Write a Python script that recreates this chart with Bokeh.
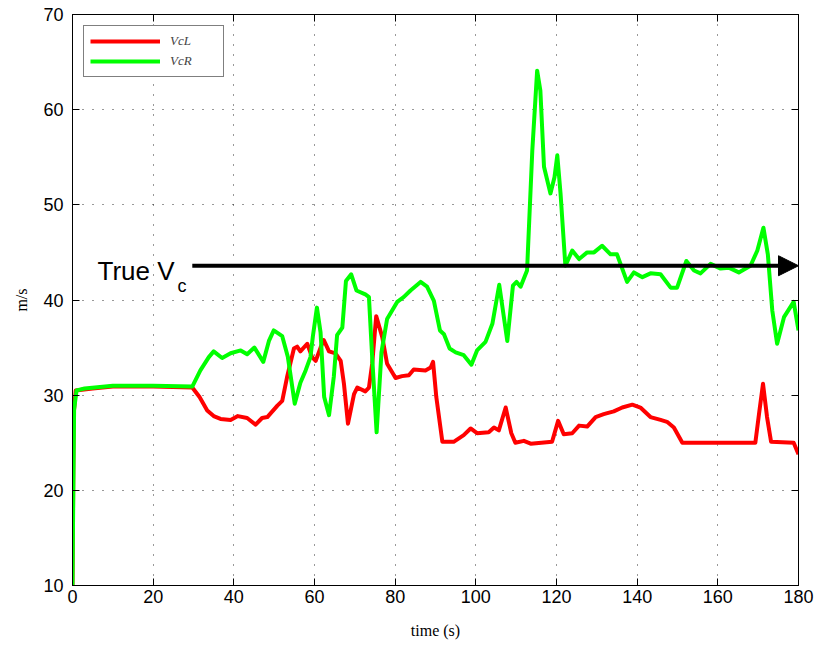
from bokeh.plotting import figure
from bokeh.models import (Range1d, FixedTicker, LinearAxis, Legend, LegendItem,
                          Arrow, NormalHead, Label)
from bokeh.embed import file_html
from bokeh.resources import INLINE

# ---- data ----
t_left = [0, 0.3, 0.8, 5, 10, 20, 29.7, 31.5, 33.4, 35.0, 36.7, 39.2, 41.0, 43.3,
          45.4, 47.0, 48.3, 50.8, 52.0, 53.2, 54.9, 55.7, 56.5, 58.2, 59.4, 60.3,
          61.5, 62.3, 63.6, 65.2, 66.5, 67.3, 68.3, 69.8, 70.6, 72.6, 73.5, 74.3,
          75.3, 76.8, 78.0, 80.1, 81.7, 83.4, 84.6, 87.5, 88.8, 89.4, 90.2, 91.7,
          94.5, 97.0, 98.7, 100.3, 103.2, 104.5, 105.7, 107.4, 108.8, 109.8, 111.9,
          113.6, 118.9, 120.4, 121.8, 123.9, 125.6, 127.6, 129.7, 131.7, 134.2,
          136.3, 138.8, 140.8, 143.3, 145.8, 147.4, 149.1, 151.2, 169.3, 170.2,
          171.2, 172.2, 173.2, 178.8, 180]
v_left = [10, 28, 30.5, 30.7, 30.9, 30.9, 30.8, 29.8, 28.4, 27.8, 27.5, 27.4, 27.8,
          27.6, 26.9, 27.6, 27.7, 28.9, 29.4, 31.9, 34.9, 35.1, 34.6, 35.4, 34.0,
          33.6, 35.0, 35.8, 34.6, 34.4, 33.6, 31.2, 27.0, 30.1, 30.8, 30.4, 30.8,
          33.3, 38.3, 36.1, 33.3, 31.8, 32.0, 32.1, 32.7, 32.6, 32.9, 33.5, 29.8,
          25.1, 25.1, 25.8, 26.5, 26.0, 26.1, 26.6, 26.3, 28.7, 26.0, 25.0, 25.2,
          24.9, 25.1, 27.3, 25.9, 26.0, 26.8, 26.7, 27.7, 28.0, 28.3, 28.7, 29.0,
          28.7, 27.7, 27.4, 27.2, 26.6, 25.0, 25.0, 28.0, 31.2, 27.7, 25.1, 25.0,
          23.8]

t_right = [0, 0.2, 0.4, 1.0, 3, 10, 20, 29.7, 31.7, 33.8, 35.0, 37.1, 39.2, 41.7,
           43.3, 45.1, 47.3, 48.7, 49.9, 52.0, 53.4, 55.1, 56.5, 57.8, 59.0, 59.6,
           60.6, 61.5, 62.4, 63.6, 64.8, 65.6, 66.9, 67.8, 69.1, 70.4, 72.6, 73.5,
           74.3, 75.4, 76.6, 78.0, 80.5, 82.1, 83.8, 86.3, 87.9, 89.6, 91.1, 92.1,
           93.5, 95.0, 97.0, 98.9, 100.3, 102.4, 104.1, 105.8, 107.8, 109.2, 110.1,
           111.1, 112.7, 114.0, 115.2, 116.0, 116.9, 118.5, 119.5, 120.2, 121.0,
           122.2, 123.9, 125.6, 127.6, 129.3, 131.3, 133.4, 135.0, 137.5, 139.2,
           141.3, 143.3, 145.8, 148.3, 149.9, 152.2, 154.1, 155.7, 158.2, 160.7,
           162.7, 165.2, 168.1, 169.8, 171.3, 172.4, 173.5, 174.7, 176.4, 178.8, 180]
v_right = [10, 20, 28.5, 30.5, 30.7, 31.0, 31.0, 30.9, 32.6, 34.0, 34.6, 33.9, 34.4,
           34.7, 34.3, 35.0, 33.5, 35.7, 36.8, 36.2, 34.0, 29.1, 31.3, 32.6, 34.0,
           36.2, 39.2, 36.6, 29.8, 27.9, 32.0, 36.3, 37.1, 42.0, 42.7, 41.0, 40.6,
           40.3, 34.0, 26.1, 34.5, 38.0, 39.8, 40.3, 41.0, 41.9, 41.4, 39.9, 36.8,
           36.4, 34.9, 34.5, 34.2, 33.2, 34.7, 35.6, 37.5, 41.6, 35.7, 41.5, 41.9,
           41.4, 43.1, 55.7, 64.1, 62.0, 54.0, 51.2, 52.9, 55.2, 51.2, 43.6, 45.2,
           44.3, 45.0, 45.0, 45.7, 44.8, 44.8, 41.9, 42.9, 42.4, 42.8, 42.7, 41.3,
           41.3, 44.1, 43.1, 42.8, 43.8, 43.3, 43.4, 42.9, 43.6, 45.2, 47.6, 44.8,
           38.9, 35.4, 38.2, 39.8, 36.8]

true_vc = 43.6
arrow_t = [29.7, 180]
label_t = 6.2

x_ticks = [0, 20, 40, 60, 80, 100, 120, 140, 160, 180]
y_ticks = [10, 20, 30, 40, 50, 60, 70]

# ---- figure ----
p = figure(width=818, height=649, x_range=Range1d(0, 180), y_range=Range1d(10, 70),
           output_backend="svg", toolbar_location=None,
           min_border_left=72, min_border_right=20, min_border_top=14,
           min_border_bottom=64)
p.background_fill_color = "white"
p.border_fill_color = "white"
p.outline_line_color = "black"
p.outline_line_width = 1

tick_font = "Liberation Sans"
for ax in (p.xaxis[0], p.yaxis[0]):
    ax.major_tick_in = 7
    ax.major_tick_out = 0
    ax.minor_tick_line_color = None
    ax.axis_line_color = "black"
    ax.major_tick_line_color = "black"
    ax.major_label_text_font = tick_font
    ax.major_label_text_font_size = "18px"
    ax.major_label_text_color = "black"
    ax.axis_label_text_font = "Liberation Serif"
    ax.axis_label_text_font_style = "normal"
    ax.axis_label_text_font_size = "16px"
    ax.axis_label_text_color = "black"

p.xaxis.ticker = FixedTicker(ticks=x_ticks)
p.yaxis.ticker = FixedTicker(ticks=y_ticks)
p.xaxis.axis_label = "time (s)"
p.yaxis.axis_label = "m/s"
p.xaxis.major_label_standoff = 4
p.yaxis.major_label_standoff = 9
p.xaxis.axis_label_standoff = 16
p.yaxis.axis_label_standoff = 10

# top and right axes: tick marks only (MATLAB box style)
for loc, tk in (("above", x_ticks), ("right", y_ticks)):
    ax = LinearAxis(ticker=FixedTicker(ticks=tk), major_tick_in=7, major_tick_out=0,
                    minor_tick_line_color=None, major_label_text_color=None,
                    major_label_text_alpha=0, major_label_text_font_size="1px",
                    major_label_standoff=0, axis_line_color="black")
    p.add_layout(ax, loc)

p.xgrid.ticker = FixedTicker(ticks=x_ticks)
p.ygrid.ticker = FixedTicker(ticks=y_ticks)
for g in (p.xgrid[0], p.ygrid[0]):
    g.grid_line_color = "black"
    g.grid_line_dash = "1 9"
    g.grid_line_width = 1
    g.grid_line_alpha = 0.8

r_left = p.line(t_left, v_left, line_color="#ff0000", line_width=4,
                line_join="round")
r_right = p.line(t_right, v_right, line_color="#00ff00", line_width=4,
                 line_join="round")

legend = Legend(items=[LegendItem(label="VcL", renderers=[r_left]),
                       LegendItem(label="VcR", renderers=[r_right])],
                location="top_left", margin=11, padding=6, spacing=2,
                glyph_width=70, glyph_height=18, label_height=18, label_width=47,
                label_standoff=10, border_line_color="black", border_line_width=1,
                background_fill_color="white", background_fill_alpha=1,
                label_text_font="Liberation Serif", label_text_font_style="italic",
                label_text_font_size="13px")
p.add_layout(legend)

p.add_layout(Arrow(end=NormalHead(size=20, fill_color="black", line_color="black"),
                   x_start=arrow_t[0], y_start=true_vc, x_end=arrow_t[1], y_end=true_vc,
                   line_width=4, line_color="black"))

p.add_layout(Label(x=label_t, y=true_vc, y_offset=-5, text="True V",
                   text_font="Liberation Sans", text_font_size="26px",
                   text_color="black", text_baseline="alphabetic"))
p.add_layout(Label(x=label_t, y=true_vc, x_offset=80, y_offset=-20, text="c",
                   text_font="Liberation Sans", text_font_size="18px",
                   text_color="black", text_baseline="alphabetic"))

open("out.html", "w").write(file_html(p, INLINE))
